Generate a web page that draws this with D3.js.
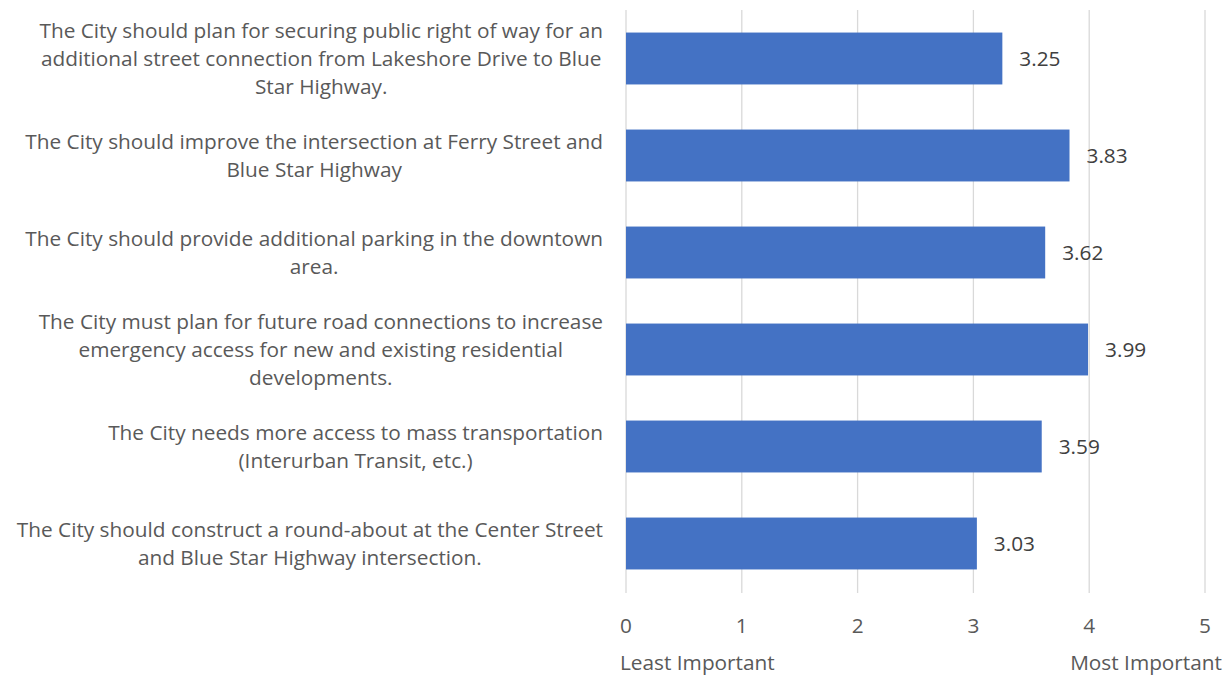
<!DOCTYPE html>
<html><head><meta charset="utf-8">
<script src="https://cdnjs.cloudflare.com/ajax/libs/d3/7.8.5/d3.min.js"></script>
<style>
html,body{margin:0;padding:0;background:#fff;}
svg{display:block;font-family:"Open Sans",Lato,sans-serif;}
</style></head><body>
<svg id="c" width="1231" height="677"></svg>
<script>
const categories = [
  ["The City should plan for securing public right of way for an","additional street connection from Lakeshore Drive to Blue","Star Highway."],
  ["The City should improve the intersection at Ferry Street and","Blue Star Highway"],
  ["The City should provide additional parking in the downtown","area."],
  ["The City must plan for future road connections to increase","emergency access for new and existing residential","developments."],
  ["The City needs more access to mass transportation","(Interurban Transit, etc.)"],
  ["The City should construct a round-about at the Center Street","and Blue Star Highway intersection."]
];
const values = [3.25, 3.83, 3.62, 3.99, 3.59, 3.03];
const xTicks = [0, 1, 2, 3, 4, 5];
const axisEndLabels = ["Least Important", "Most Important"];

const svg = d3.select("#c");
const fs = 20.8;
const x = d3.scaleLinear().domain([0, 5]).range([626, 1205]);
const y = d3.scaleBand().domain(d3.range(categories.length)).range([10, 592]).paddingInner(0.465).paddingOuter(0.2325);

// gridlines
svg.append("g").selectAll("line").data(xTicks).join("line")
  .attr("x1", d => x(d)).attr("x2", d => x(d))
  .attr("y1", 10).attr("y2", 593)
  .attr("stroke", "#d9d9d9").attr("stroke-width", 1.3);

// bars
svg.append("g").selectAll("rect").data(values).join("rect")
  .attr("x", x(0)).attr("y", (d, i) => y(i))
  .attr("width", d => x(d) - x(0)).attr("height", y.bandwidth())
  .attr("fill", "#4472c4");

// value labels
svg.append("g").selectAll("text").data(values).join("text")
  .attr("x", d => x(d) + 17).attr("y", (d, i) => y(i) + y.bandwidth() / 2)
  .attr("dy", "0.35em").attr("font-size", fs).attr("fill", "#404040")
  .text(d => d.toFixed(2));

// category labels
const lh = 28;
const right = 603;
categories.forEach((lines, i) => {
  const g = svg.append("g");
  const cy = y(i) + y.bandwidth() / 2;
  const ts = g.selectAll("text").data(lines).join("text")
    .attr("font-size", fs).attr("fill", "#595959")
    .attr("text-anchor", "middle")
    .attr("dy", "0.35em")
    .text(d => d);
  let maxW = 0;
  ts.each(function () { maxW = Math.max(maxW, this.getComputedTextLength()); });
  const cx = right - maxW / 2;
  ts.attr("x", cx).attr("y", (d, j) => cy + (j - (lines.length - 1) / 2) * lh);
});

// x tick labels
svg.append("g").selectAll("text").data(xTicks).join("text")
  .attr("x", d => x(d)).attr("y", 626).attr("dy", "0.35em")
  .attr("text-anchor", "middle").attr("font-size", fs).attr("fill", "#595959")
  .text(d => d);

// axis end labels
svg.append("text").attr("x", 620).attr("y", 663).attr("dy", "0.35em")
  .attr("font-size", fs).attr("fill", "#595959").text(axisEndLabels[0]);
svg.append("text").attr("x", 1222).attr("y", 663).attr("dy", "0.35em")
  .attr("text-anchor", "end").attr("font-size", fs).attr("fill", "#595959").text(axisEndLabels[1]);
</script>
</body></html>
